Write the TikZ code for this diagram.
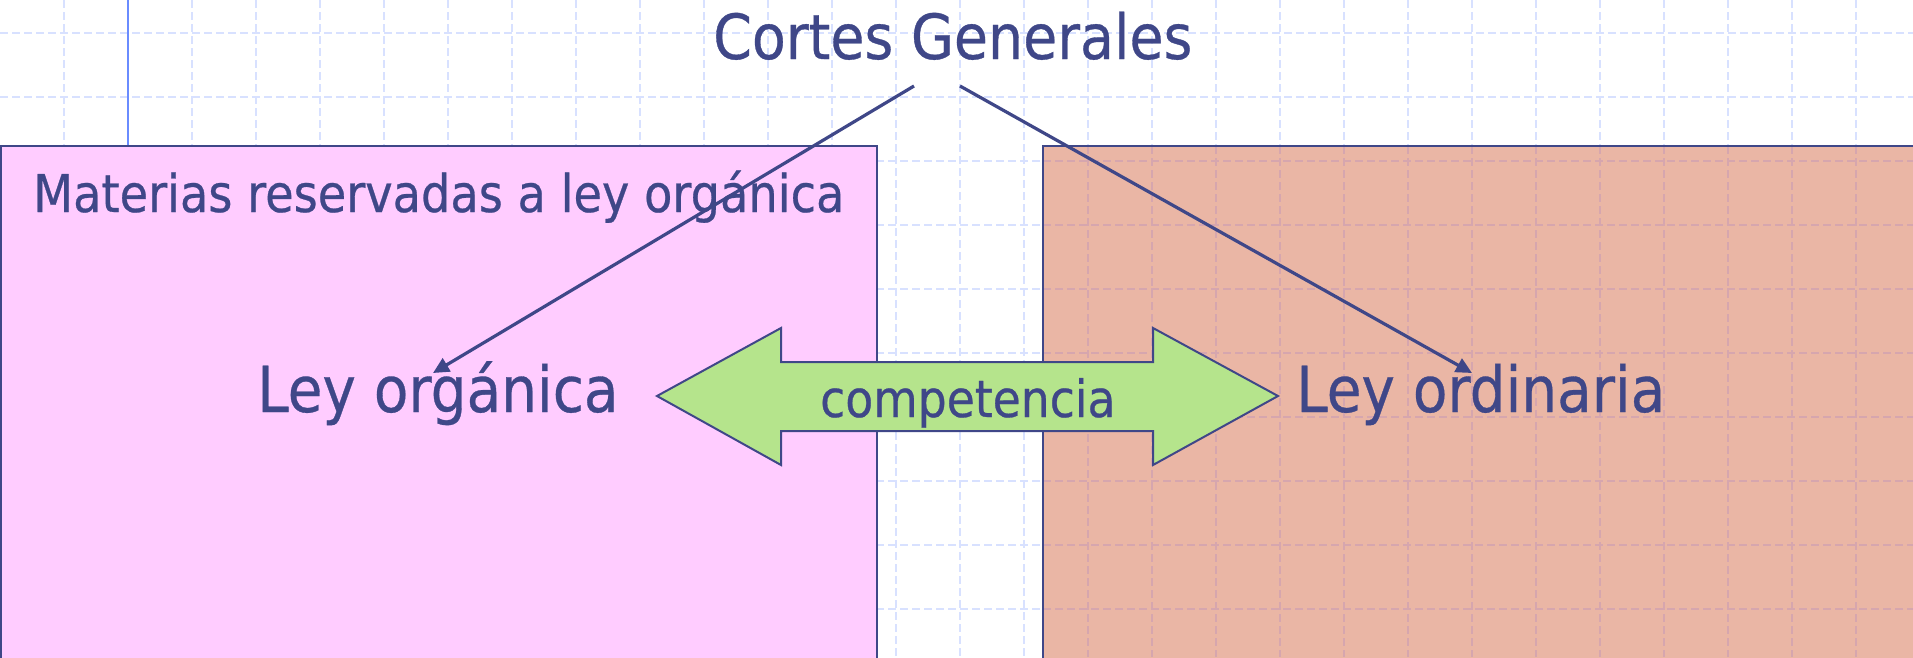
\documentclass[tikz,border=0pt]{standalone}
\usepackage{fontspec}
\setmainfont{DejaVu Sans}[FakeStretch=0.89,FakeBold=0.5]
\usetikzlibrary{arrows.meta}
\definecolor{txtblue}{HTML}{3F4788}
\definecolor{pinkfill}{HTML}{FFCCFF}
\definecolor{salmonfill}{HTML}{EAB6A5}
\definecolor{greenfill}{HTML}{B5E48C}
\definecolor{gridblue}{HTML}{D8E1FF}
\definecolor{gridmauve}{HTML}{D6A6AE}
\definecolor{lineblue}{HTML}{6A8CFF}
\begin{document}
\begin{tikzpicture}[x=1pt,y=-1pt,
  gridline/.style={draw=gridblue,line width=1.5pt,dash pattern=on 8pt off 4pt},
  gridsal/.style={draw=gridmauve,line width=1.5pt,dash pattern=on 8pt off 4pt},
  boxframe/.style={draw=txtblue,line width=2pt},
  conn/.style={draw=txtblue,line width=3.2pt,-{Triangle[length=16pt,width=15pt]}},
  bigtext/.style={text=txtblue,font=\fontsize{63.5}{70}\selectfont,inner sep=0pt,anchor=base west},
  midtext/.style={text=txtblue,font=\fontsize{52}{60}\selectfont,inner sep=0pt,anchor=base west},
  dblarrow/.style={draw=txtblue,line width=2pt,fill=greenfill,line join=miter}]
\useasboundingbox (0,0) rectangle (1913,657);
\fill[white] (0,0) rectangle (1913,657);
% background grid
\foreach \x in {64,128,...,1900} \draw[gridline] (\x,0) -- (\x,657);
\foreach \y in {33,97,...,657} \draw[gridline] (0,\y) -- (1913,\y);
% right box (grid shows through)
\fill[salmonfill] (1043,146) rectangle (1930,670);
\begin{scope}
  \clip (1043,146) rectangle (1930,670);
  \foreach \x in {1088,1152,...,1900} \draw[gridsal] (\x,146) -- (\x,657);
  \foreach \y in {161,225,...,657} \draw[gridsal] (1043,\y) -- (1913,\y);
\end{scope}
\draw[boxframe] (1930,146) -- (1043,146) -- (1043,670);
% left box
\fill[pinkfill] (1,146) rectangle (877,670);
\draw[boxframe] (1,670) -- (1,146) -- (877,146) -- (877,670);
% thin vertical line
\draw[lineblue,line width=2pt] (128,0) -- (128,145);
% double arrow
\draw[dblarrow] (657,396) -- (781,328) -- (781,362) -- (1153,362) -- (1153,328)
  -- (1278,396) -- (1153,465) -- (1153,431) -- (781,431) -- (781,465) -- cycle;
% texts
\node[bigtext,font=\fontsize{62.3}{70}\selectfont] (cg) at (713,59) {Cortes Generales};
\node[midtext] (mat) at (33,212) {Materias reservadas a ley orgánica};
\node[bigtext] (lo) at (257,412) {Ley orgánica};
\node[bigtext] (lord) at (1296,412) {Ley ordinaria};
\node[midtext,font=\fontsize{51.3}{60}\selectfont] (comp) at (820,417) {competencia};
% connectors
\coordinate (cgL) at (914,86);
\coordinate (cgR) at (960,86);
\coordinate (loIn) at (433,373);
\coordinate (lordIn) at (1472,373);
\draw[conn] (cgL) -- (loIn);
\draw[conn] (cgR) -- (lordIn);
\end{tikzpicture}
\end{document}
